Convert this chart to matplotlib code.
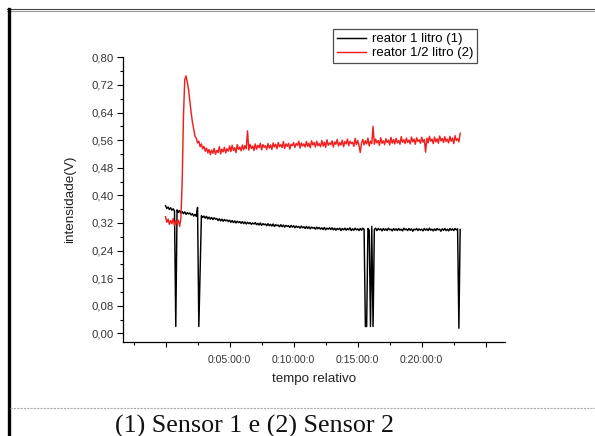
import matplotlib
matplotlib.use("Agg")
import matplotlib.pyplot as plt
import matplotlib.ticker as ticker
from matplotlib.lines import Line2D
import numpy as np

plt.rcParams['font.family'] = ['Liberation Sans', 'DejaVu Sans']

# intervalo entre leituras do registro [min]
sample_step_min = 0.1

# reator 1 litro (1) - intensidade [V], uma linha = 1 minuto
reator_1 = [
    0.370, 0.362, 0.366, 0.359, 0.364, 0.357, 0.361, 0.355, 0.020, 0.358,
    0.351, 0.356, 0.348, 0.353, 0.347, 0.352, 0.345, 0.350, 0.346, 0.349,
    0.343, 0.347, 0.340, 0.345, 0.339, 0.365, 0.020, 0.182, 0.341, 0.336,
    0.340, 0.334, 0.339, 0.332, 0.337, 0.331, 0.336, 0.330, 0.335, 0.331,
    0.333, 0.327, 0.332, 0.326, 0.331, 0.325, 0.330, 0.326, 0.329, 0.324,
    0.328, 0.322, 0.327, 0.321, 0.326, 0.320, 0.325, 0.321, 0.324, 0.319,
    0.324, 0.318, 0.323, 0.317, 0.322, 0.318, 0.321, 0.316, 0.320, 0.317,
    0.321, 0.315, 0.319, 0.314, 0.320, 0.313, 0.318, 0.315, 0.317, 0.312,
    0.318, 0.312, 0.316, 0.311, 0.317, 0.310, 0.315, 0.312, 0.314, 0.309,
    0.315, 0.309, 0.314, 0.308, 0.313, 0.310, 0.312, 0.307, 0.313, 0.308,
    0.312, 0.306, 0.311, 0.307, 0.310, 0.305, 0.311, 0.306, 0.309, 0.304,
    0.310, 0.304, 0.309, 0.303, 0.308, 0.305, 0.307, 0.302, 0.308, 0.303,
    0.307, 0.302, 0.306, 0.301, 0.307, 0.300, 0.305, 0.302, 0.306, 0.301,
    0.306, 0.300, 0.305, 0.299, 0.304, 0.301, 0.305, 0.298, 0.304, 0.300,
    0.305, 0.299, 0.304, 0.300, 0.306, 0.298, 0.303, 0.299, 0.305, 0.300,
    0.303, 0.298, 0.304, 0.299, 0.305, 0.301, 0.020, 0.020, 0.304, 0.299,
    0.020, 0.310, 0.020, 0.301, 0.305, 0.298, 0.304, 0.300, 0.303, 0.297,
    0.304, 0.299, 0.303, 0.298, 0.305, 0.300, 0.302, 0.297, 0.304, 0.299,
    0.303, 0.298, 0.304, 0.299, 0.302, 0.297, 0.305, 0.300, 0.303, 0.298,
    0.304, 0.299, 0.303, 0.296, 0.302, 0.300, 0.304, 0.298, 0.303, 0.299,
    0.302, 0.297, 0.304, 0.299, 0.303, 0.298, 0.305, 0.299, 0.302, 0.297,
    0.303, 0.298, 0.304, 0.300, 0.302, 0.296, 0.303, 0.299, 0.304, 0.298,
    0.302, 0.297, 0.304, 0.299, 0.303, 0.298, 0.304, 0.300, 0.303, 0.015,
    0.301,
]

# reator 1/2 litro (2) - intensidade [V]
reator_meio = [
    0.338, 0.322, 0.331, 0.316, 0.327, 0.318, 0.333, 0.312, 0.326, 0.319,
    0.328, 0.310, 0.334, 0.440, 0.630, 0.735, 0.746, 0.728, 0.705, 0.672,
    0.640, 0.612, 0.592, 0.571, 0.566, 0.552, 0.557, 0.541, 0.549, 0.535,
    0.542, 0.528, 0.537, 0.523, 0.533, 0.518, 0.531, 0.522, 0.536, 0.519,
    0.530, 0.524, 0.541, 0.520, 0.534, 0.526, 0.539, 0.523, 0.535, 0.528,
    0.543, 0.527, 0.545, 0.530, 0.538, 0.524, 0.547, 0.533, 0.540, 0.529,
    0.546, 0.532, 0.544, 0.535, 0.587, 0.531, 0.548, 0.536, 0.543, 0.530,
    0.549, 0.534, 0.545, 0.538, 0.551, 0.532, 0.547, 0.539, 0.544, 0.533,
    0.550, 0.537, 0.546, 0.533, 0.552, 0.540, 0.548, 0.535, 0.553, 0.541,
    0.547, 0.538, 0.556, 0.536, 0.549, 0.542, 0.551, 0.534, 0.548, 0.544,
    0.553, 0.539, 0.550, 0.545, 0.557, 0.537, 0.552, 0.543, 0.549, 0.540,
    0.556, 0.542, 0.551, 0.538, 0.558, 0.546, 0.553, 0.540, 0.557, 0.544,
    0.550, 0.541, 0.559, 0.543, 0.554, 0.539, 0.561, 0.545, 0.552, 0.547,
    0.558, 0.540, 0.555, 0.548, 0.562, 0.543, 0.553, 0.546, 0.560, 0.541,
    0.556, 0.549, 0.563, 0.544, 0.557, 0.550, 0.554, 0.542, 0.565, 0.547,
    0.559, 0.545, 0.524, 0.551, 0.562, 0.546, 0.558, 0.549, 0.566, 0.543,
    0.557, 0.550, 0.600, 0.548, 0.563, 0.552, 0.559, 0.545, 0.567, 0.551,
    0.558, 0.547, 0.564, 0.553, 0.560, 0.546, 0.568, 0.551, 0.562, 0.549,
    0.565, 0.552, 0.559, 0.548, 0.570, 0.554, 0.561, 0.550, 0.566, 0.553,
    0.560, 0.549, 0.569, 0.555, 0.563, 0.548, 0.567, 0.556, 0.561, 0.551,
    0.568, 0.554, 0.562, 0.525, 0.566, 0.552, 0.571, 0.557, 0.563, 0.550,
    0.569, 0.555, 0.564, 0.551, 0.572, 0.558, 0.565, 0.553, 0.570, 0.556,
    0.563, 0.552, 0.571, 0.557, 0.566, 0.550, 0.573, 0.559, 0.564, 0.555,
    0.580,
]

label_1 = "reator 1 litro (1)"
label_2 = "reator 1/2 litro (2)"
x_major = [0, 5, 10, 15, 20, 25]          # minutos
x_labelled = [5, 10, 15, 20]
caption = "(1) Sensor 1 e (2) Sensor 2"

tempo = np.arange(len(reator_1)) * sample_step_min

W, H = 595, 436
fig = plt.figure(figsize=(W / 100, H / 100), dpi=100)

# axes placed in pixel coords of the page screenshot
x0, x1, y_top, y_bot = 123, 505, 57.3, 341.7
ax = fig.add_axes([x0 / W, 1 - y_bot / H, (x1 - x0) / W, (y_bot - y_top) / H])

l1, = ax.plot(tempo, reator_1, color="black", lw=1.05, label=label_1)
l2, = ax.plot(tempo, reator_meio, color="#f02020", lw=1.05, label=label_2)

ax.set_xlim(-3.32, 26.5)
ax.set_ylim(-0.024, 0.80)

for s in ['top', 'right']:
    ax.spines[s].set_visible(False)
for s in ['left', 'bottom']:
    ax.spines[s].set_linewidth(0.9)

def fmt_tempo(v, pos):
    m = int(round(v))
    if m in x_labelled:
        return "0:%02d:00:0" % m
    return ""

ax.xaxis.set_major_locator(ticker.FixedLocator(x_major))
ax.xaxis.set_minor_locator(ticker.FixedLocator([m - 2.5 for m in x_major]))
ax.xaxis.set_major_formatter(ticker.FuncFormatter(fmt_tempo))
ax.yaxis.set_major_locator(ticker.MultipleLocator(0.08))
ax.yaxis.set_minor_locator(ticker.MultipleLocator(0.04))
ax.yaxis.set_major_formatter(ticker.FuncFormatter(lambda v, p: ("%.2f" % v).replace('.', ',')))

ax.tick_params(axis='both', which='both', direction='out', width=0.8, colors='black',
               labelcolor='#333333')
ax.tick_params(axis='x', which='major', length=3.4, pad=6, labelsize=7.6)
ax.tick_params(axis='x', which='minor', length=2)
ax.tick_params(axis='y', which='major', length=4.3, pad=2.5, labelsize=8.2)
ax.tick_params(axis='y', which='minor', length=2.5)

ax.set_xlabel("tempo relativo", fontsize=9.6, color='#222222', labelpad=6)
ax.set_ylabel("intensidade(V)", fontsize=9.7, color='#222222', labelpad=11)

leg = fig.legend(handles=[l1, l2], loc='upper left', bbox_to_anchor=(333.3 / W, 1 - 29.3 / H),
                 fontsize=9.5, frameon=True, fancybox=False, borderpad=0.3, handlelength=2.2,
                 handletextpad=0.4, labelspacing=0.12, borderaxespad=0)
leg.get_frame().set_edgecolor('#222222')
leg.get_frame().set_linewidth(0.9)

# page decorations around the figure (document screenshot)
fig.add_artist(Line2D([7 / W, 1], [1 - 9.5 / H, 1 - 9.5 / H], color='#444444', lw=0.8))
fig.add_artist(Line2D([7 / W, 1], [1 - 11.3 / H, 1 - 11.3 / H], color='#999999', lw=0.8))
fig.add_artist(Line2D([8.5 / W, 8.5 / W], [0, 1 - 9.5 / H], color='black', lw=2.4))
fig.add_artist(Line2D([10 / W, 1], [1 - 408.3 / H, 1 - 408.3 / H], color='#aaaaaa', lw=0.8,
                      linestyle=(0, (2, 1))))

fig.text(115 / W, 1 - 426 / H, caption, fontsize=18.7, family='Liberation Serif',
         ha='left', va='center', color='#111111')

fig.savefig("out.png", dpi=100)
